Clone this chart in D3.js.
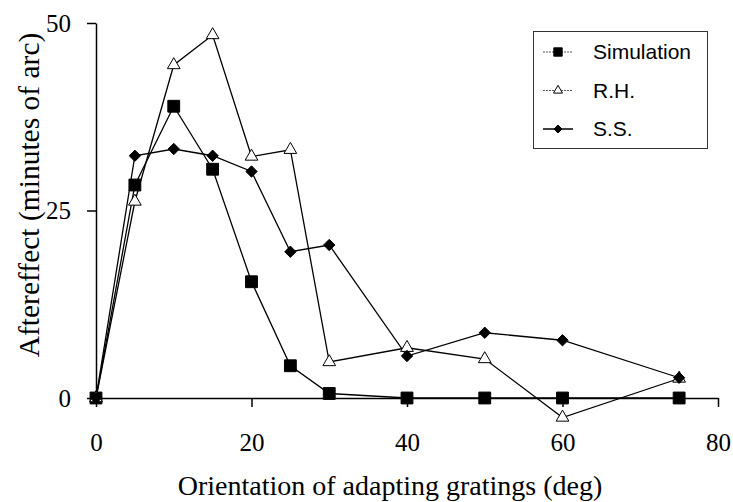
<!DOCTYPE html>
<style>
    body { margin: 0; background: #fff; }
    .axis text { font-family: "Liberation Serif", "Times New Roman", serif; font-size: 25px; fill: #000; }
    .axis path, .axis line { stroke: #000; stroke-width: 1.5px; }
    .title { font-family: "Liberation Serif", "Times New Roman", serif; font-size: 28px; fill: #000; }
    .legend text { font-family: "Liberation Sans", Arial, sans-serif; font-size: 21px; fill: #000; }
</style>
<svg width="733" height="502"></svg>
<script src="https://d3js.org/d3.v7.min.js"></script>
<script>

    // orientation of adapting gratings (deg)
    var angles = [0, 5, 10, 15, 20, 25, 30, 40, 50, 60, 75];
    // aftereffect (minutes of arc)
    var simulation = [0, 28.4, 38.9, 30.5, 15.5, 4.3, 0.6, 0, 0, 0, 0];
    var rh = [0, 26.2, 44.4, 48.4, 32.2, 33.1, 4.8, 6.7, 5.2, -2.6, 2.6];
    var ss = [0, 32.3, 33.2, 32.3, 30.2, 19.5, 20.4, 5.6, 8.7, 7.7, 2.7];
    var seriesNames = ["Simulation", "R.H.", "S.S."];
    var xTicks = [0, 20, 40, 60, 80];
    var yTicks = [0, 25, 50];

    var svg = d3.select("svg"),
        margin = {top: 23, right: 15, bottom: 104, left: 96},
        width = +svg.attr("width") - margin.left - margin.right,
        height = +svg.attr("height") - margin.top - margin.bottom,
        g = svg.append("g").attr("transform", "translate(" + margin.left + "," + margin.top + ")");

    var x = d3.scaleLinear().domain([0, 80]).range([0, 622]);
    var y = d3.scaleLinear().domain([0, 50]).range([height, 0]);

    // square-shaped diamond (rotated square)
    var diamond = {
        draw: function(context, size) {
            var r = Math.sqrt(size / 2);
            context.moveTo(0, -r);
            context.lineTo(r, 0);
            context.lineTo(0, r);
            context.lineTo(-r, 0);
            context.closePath();
        }
    };

    var series = [
        {name: seriesNames[0], values: simulation, symbol: d3.symbolSquare, size: 140, fill: "#000"},
        {name: seriesNames[1], values: rh, symbol: d3.symbolTriangle, size: 70, fill: "#fff"},
        {name: seriesNames[2], values: ss, symbol: diamond, size: 64, fill: "#000"}
    ];

    // axes
    g.append("g")
        .attr("class", "axis")
        .attr("transform", "translate(0," + height + ")")
        .call(d3.axisBottom(x).tickValues(xTicks).tickSize(9).tickSizeOuter(0).tickPadding(26));

    g.append("g")
        .attr("class", "axis")
        .call(d3.axisLeft(y).tickValues(yTicks).tickSize(9).tickSizeOuter(0).tickPadding(16));

    var line = d3.line()
        .x(function(d, i) { return x(angles[i]); })
        .y(function(d) { return y(d); });

    series.forEach(function(s) {
        g.append("path")
            .datum(s.values)
            .attr("fill", "none")
            .attr("stroke", "#000")
            .attr("stroke-width", 1.3)
            .attr("d", line);
    });

    series.forEach(function(s) {
        g.append("g").selectAll("path")
            .data(s.values)
            .enter().append("path")
            .attr("transform", function(d, i) { return "translate(" + x(angles[i]) + "," + y(d) + ")"; })
            .attr("d", d3.symbol().type(s.symbol).size(s.size))
            .attr("fill", s.fill)
            .attr("stroke", "#000")
            .attr("stroke-width", 1);
    });

    // titles
    svg.append("text")
        .attr("class", "title")
        .attr("x", 390)
        .attr("y", 495)
        .attr("text-anchor", "middle")
        .text("Orientation of adapting gratings (deg)");

    svg.append("text")
        .attr("class", "title")
        .attr("transform", "translate(39,195) rotate(-90)")
        .attr("text-anchor", "middle")
        .style("font-size", "29.5px")
        .text("Aftereffect (minutes of arc)");

    // legend
    var legend = svg.append("g").attr("class", "legend");
    legend.append("rect")
        .attr("x", 533.5).attr("y", 31.5)
        .attr("width", 174).attr("height", 117)
        .attr("fill", "#fff")
        .attr("stroke", "#333")
        .attr("stroke-width", 1);

    var items = legend.selectAll("g.item")
        .data(series)
        .enter().append("g")
        .attr("class", "item")
        .attr("transform", function(d, i) { return "translate(0," + (52 + i * 38.5) + ")"; });

    items.append("line")
        .attr("x1", 543).attr("x2", 573)
        .attr("stroke", function(d, i) { return i < 2 ? "#555" : "#000"; })
        .attr("stroke-dasharray", function(d, i) { return i < 2 ? "2,1" : null; })
        .attr("stroke-width", function(d, i) { return i < 2 ? 1 : 1.5; });

    items.append("path")
        .attr("transform", "translate(558,0)")
        .attr("d", function(d) { return d3.symbol().type(d.symbol).size(d.size * 0.5)(); })
        .attr("fill", function(d) { return d.fill; })
        .attr("stroke", "#000")
        .attr("stroke-width", 1);

    items.append("text")
        .attr("x", 593)
        .attr("dy", "0.35em")
        .text(function(d) { return d.name; });

</script>
